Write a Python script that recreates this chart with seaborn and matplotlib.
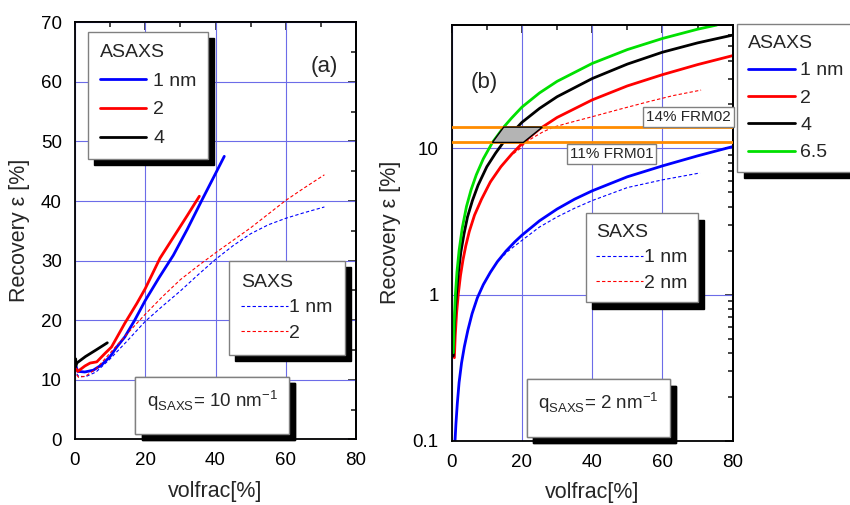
import numpy as np
import matplotlib
matplotlib.use('Agg')
import matplotlib.pyplot as plt
from matplotlib.ticker import MultipleLocator, LogLocator, NullFormatter, FixedLocator
import seaborn as sns

# ---- panel (a): linear recovery, q_SAXS = 10 nm^-1 ----
a_x_1nm = [0.3, 0.8, 2.8, 5.2, 7.6, 10, 11.9, 14.2, 17, 20, 24, 28, 32, 36, 40, 42.5]
a_y_1nm = [12.2, 11.4, 11.3, 11.6, 12.5, 13.9, 15.5, 17.2, 20.0, 23.3, 27.2, 30.9, 35.3, 40.0, 44.6, 47.5]
a_x_2nm = [0.3, 0.8, 2.8, 4.3, 6.2, 8.5, 10.4, 14.2, 17.6, 20, 24.2, 28, 32, 35.4]
a_y_2nm = [11.8, 11.4, 12.3, 12.8, 13.0, 14.4, 15.5, 19.5, 22.8, 25.3, 30.4, 33.9, 37.6, 40.8]
a_x_4nm = [0.2, 0.2, 0.5, 3, 6, 9.2]
a_y_4nm = [13.5, 12.2, 12.8, 13.9, 15.0, 16.2]
a_x_saxs = [0.5, 1, 3, 6, 10, 15, 20, 25, 30, 35, 40, 45, 50, 55, 60, 65, 71]
a_y_saxs1 = [11.0, 10.6, 10.5, 11.3, 13.5, 16.6, 19.8, 22.4, 24.9, 27.6, 30.2, 32.5, 34.5, 36.0, 37.1, 38.0, 39.0]
a_y_saxs2 = [10.8, 10.4, 10.6, 11.8, 14.5, 17.8, 21.0, 24.0, 26.8, 29.1, 31.3, 33.4, 35.5, 37.8, 40.1, 42.1, 44.4]

# ---- panel (b): log recovery, q_SAXS = 2 nm^-1 ----
b_x_1nm = [0.95, 1.2, 1.6, 2.1, 2.8, 3.6, 4.6, 5.8, 7.3, 9, 11, 13, 15.5, 18, 20, 25, 30, 35, 40, 50, 60, 70, 80]
b_y_1nm = [0.1, 0.13, 0.18, 0.25, 0.34, 0.44, 0.57, 0.74, 0.95, 1.17, 1.42, 1.68, 1.99, 2.3, 2.55,
           3.2, 3.85, 4.5, 5.13, 6.4, 7.6, 8.9, 10.3]
b_x_2nm = [0.76, 1.0, 1.4, 1.9, 2.5, 3.2, 4, 5, 6.5, 8.5, 11, 14, 17, 20, 25, 30, 40, 50, 60, 70, 80]
b_y_2nm = [0.37, 0.52, 0.75, 1.02, 1.35, 1.72, 2.15, 2.7, 3.5, 4.5, 5.9, 7.5, 9.1, 10.8, 13.6, 16.3,
           21.5, 26.8, 32.0, 37.5, 43.2]
b_x_4nm = [0.45, 0.7, 1.0, 1.35, 1.9, 2.6, 3.5, 4.5, 5.9, 7.5, 10, 12.5, 14.7, 18.7, 20, 25, 30, 40,
           50, 60, 70, 80]
b_y_4nm = [0.38, 0.55, 0.76, 1.0, 1.42, 1.95, 2.6, 3.4, 4.4, 5.6, 7.5, 9.3, 11, 14, 15.1, 18.8, 22.6,
           30.1, 37.8, 45.6, 52.8, 59.7]
b_x_65nm = [0.45, 0.7, 1.05, 1.5, 2.1, 3, 4.2, 5.5, 7, 9, 11.6, 14.8, 17, 20, 25, 30, 40, 50, 60, 70, 75.5]
b_y_65nm = [0.4, 0.65, 1.0, 1.43, 2.0, 2.85, 4.0, 5.2, 6.6, 8.5, 11, 14, 16.1, 19.2, 24, 28.8, 38.2,
            47.5, 56.6, 65.5, 70]
b_x_saxs1 = [7.3, 9, 11, 13, 16, 20, 25, 30, 35, 40, 50, 60, 70.7]
b_y_saxs1 = [0.95, 1.17, 1.42, 1.68, 1.98, 2.35, 2.9, 3.4, 3.9, 4.4, 5.4, 6.1, 6.8]
b_x_saxs2 = [10, 12, 14.7, 17, 19.5, 21, 23.5, 26, 29, 33, 40, 48, 56, 63, 71]
b_y_saxs2 = [5.3, 6.4, 7.9, 9.0, 10.0, 11.0, 12.0, 13.0, 14.0, 14.9, 16.5, 18.6, 20.9, 23.0, 25.1]

frm_levels = [11, 14]
frm_labels = ['11% FRM01', '14% FRM02']

sns.set_style('white')
plt.rcParams['font.family'] = ['Liberation Sans', 'DejaVu Sans']
plt.rcParams['mathtext.fontset'] = 'custom'
plt.rcParams['mathtext.rm'] = 'Liberation Sans'

BLUE, RED, BLACK, GREEN = '#0000ff', '#ff0000', '#000000', '#00e000'
GRID = '#6c6ce8'
SOLID = 2.0
DASH = dict(lw=0.8, linestyle=(0, (3, 2)))

fig = plt.figure(figsize=(8.5, 5.05), dpi=100)
ax_a = fig.add_axes([75 / 850, 1 - 439.3 / 505, 281 / 850, 417 / 505])
ax_b = fig.add_axes([451.7 / 850, 1 - 440.7 / 505, 281 / 850, 415.7 / 505])


def line(ax, x, y, color, **kw):
    sns.lineplot(x=x, y=y, ax=ax, color=color, sort=False, estimator=None, **kw)
    return ax.lines[-1]


def add_box(ax, handles, labels, title, anchor, pad=0.55, fs=14, textpad=0.35, spacing=0.53):
    leg = ax.legend(handles, labels, title=title, loc='upper left',
                    bbox_to_anchor=anchor, bbox_transform=fig.transFigure,
                    borderaxespad=0, fancybox=False, framealpha=1,
                    edgecolor='#808080', fontsize=fs, title_fontsize=fs,
                    alignment='left', borderpad=pad, labelspacing=spacing,
                    handlelength=2.4, handletextpad=textpad,
                    shadow={'color': 'black', 'alpha': 1, 'ox': 4.5, 'oy': -4.5})
    leg.get_frame().set_linewidth(1)
    ax.add_artist(leg)
    return leg


def style_axes(ax, log=False):
    for s in ax.spines.values():
        s.set_color('black')
        s.set_linewidth(1.3)
    ax.tick_params(which='both', direction='out', colors='black', labelsize=13.5,
                   width=1.2)
    ax.tick_params(which='major', length=6)
    ax.tick_params(which='minor', length=3.5)
    ax.set_xlim(0, 80)
    ax.xaxis.set_major_locator(MultipleLocator(20))
    ax.xaxis.set_minor_locator(MultipleLocator(10))
    ax.grid(True, which='major', color=GRID, lw=0.8)
    ax.set_xlabel('volfrac[%]', fontsize=15.5, labelpad=8)
    ax.set_ylabel('Recovery ε [%]', fontsize=15.5, labelpad=8)
    top = ax.secondary_xaxis('top')
    top.xaxis.set_major_locator(MultipleLocator(20))
    top.xaxis.set_minor_locator(MultipleLocator(10))
    top.tick_params(which='both', direction='in', labeltop=False, width=1.2)
    top.tick_params(which='major', length=6)
    top.tick_params(which='minor', length=3.5)
    right = ax.secondary_yaxis('right')
    if log:
        right.yaxis.set_major_locator(FixedLocator([0.1, 1, 10]))
        right.yaxis.set_minor_locator(LogLocator(base=10, subs=np.arange(2, 10)))
        right.yaxis.set_minor_formatter(NullFormatter())
    else:
        right.yaxis.set_major_locator(MultipleLocator(10))
        right.yaxis.set_minor_locator(MultipleLocator(5))
    right.tick_params(which='both', direction='in', labelright=False, width=1.2)
    right.tick_params(which='major', length=6)
    right.tick_params(which='minor', length=3.5)
    for sec in (top, right):
        for s in sec.spines.values():
            s.set_color('black')
            s.set_linewidth(1.3)


# ---------------- panel (a) ----------------
h1 = line(ax_a, a_x_1nm, a_y_1nm, BLUE, lw=SOLID)
h2 = line(ax_a, a_x_2nm, a_y_2nm, RED, lw=SOLID)
h4 = line(ax_a, a_x_4nm, a_y_4nm, BLACK, lw=SOLID)
d1 = line(ax_a, a_x_saxs, a_y_saxs1, BLUE, **DASH)
d2 = line(ax_a, a_x_saxs, a_y_saxs2, RED, **DASH)
ax_a.set_ylim(0, 70)
ax_a.yaxis.set_major_locator(MultipleLocator(10))
ax_a.yaxis.set_minor_locator(MultipleLocator(5))
style_axes(ax_a)
ax_a.text(71, 62.5, '(a)', fontsize=16, ha='center', va='center')

add_box(ax_a, [h1, h2, h4], ['1 nm', '2', '4'], 'ASAXS', (88 / 850, 1 - 32 / 505),
        pad=0.6, spacing=0.58)
add_box(ax_a, [d1, d2], ['1 nm', '2'], 'SAXS', (228.7 / 850, 1 - 261 / 505),
        pad=0.65, textpad=0.05, spacing=0.42)
add_box(ax_a, [], [], r'q$_\mathregular{SAXS}$= 10 nm$^\mathregular{-1}$',
        (135.3 / 850, 1 - 376.7 / 505), pad=0.6, fs=13.5)

# ---------------- panel (b) ----------------
ax_b.set_yscale('log')
for lev in frm_levels:
    ax_b.axhline(lev, color='#ff8c00', lw=2, zorder=3)

# shaded window between the 6.5 nm and 2 nm curves
lo, hi = np.log10(frm_levels[0]), np.log10(frm_levels[1])
gx = [np.interp(v, np.log10(b_y_65nm), b_x_65nm) for v in (lo, hi)]
rx = [np.interp(v, np.log10(b_y_2nm), b_x_2nm) for v in (lo, hi)]
ax_b.fill([gx[0], gx[1], rx[1], rx[0]],
          [frm_levels[0], frm_levels[1], frm_levels[1], frm_levels[0]],
          facecolor='#b4b4b4', edgecolor='black', lw=1, zorder=4)

g1 = line(ax_b, b_x_1nm, b_y_1nm, BLUE, lw=SOLID)
g2 = line(ax_b, b_x_2nm, b_y_2nm, RED, lw=SOLID)
g4 = line(ax_b, b_x_4nm, b_y_4nm, BLACK, lw=SOLID)
g65 = line(ax_b, b_x_65nm, b_y_65nm, GREEN, lw=SOLID)
e1 = line(ax_b, b_x_saxs1, b_y_saxs1, BLUE, **DASH)
e2 = line(ax_b, b_x_saxs2, b_y_saxs2, RED, **DASH)
ax_b.set_ylim(0.1, 70)
ax_b.yaxis.set_major_locator(FixedLocator([0.1, 1, 10]))
ax_b.yaxis.set_minor_locator(LogLocator(base=10, subs=np.arange(2, 10)))
ax_b.yaxis.set_minor_formatter(NullFormatter())
ax_b.set_yticklabels(['0.1', '1', '10'])
style_axes(ax_b, log=True)
ax_b.text(9.2, 28.4, '(b)', fontsize=16, ha='center', va='center')

box = dict(boxstyle='square,pad=0.2', fc='white', ec='#808080', lw=1)
ax_b.text(67.3, 16.4, frm_labels[1], fontsize=11, ha='center', va='center', bbox=box, zorder=6)
ax_b.text(45.5, 9.18, frm_labels[0], fontsize=11, ha='center', va='center', bbox=box, zorder=6)

add_box(ax_b, [g1, g2, g4, g65], ['1 nm', '2', '4', '6.5'], 'ASAXS',
        (737.3 / 850, 1 - 24.3 / 505), pad=0.55, textpad=0.3, spacing=0.5)
add_box(ax_b, [e1, e2], ['1 nm', '2 nm'], 'SAXS', (585.7 / 850, 1 - 213.3 / 505),
        pad=0.55, textpad=0.05, spacing=0.4)
add_box(ax_b, [], [], r'q$_\mathregular{SAXS}$= 2 nm$^\mathregular{-1}$',
        (526.7 / 850, 1 - 379.3 / 505), pad=0.6, fs=13.5)

fig.savefig('out.png', dpi=100)
